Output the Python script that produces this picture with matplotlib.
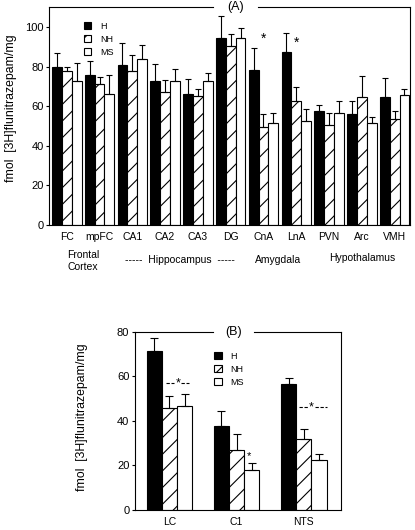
import numpy as np
import matplotlib.pyplot as plt
from matplotlib.patches import Patch

plt.rcParams['font.family'] = ['Liberation Sans', 'DejaVu Sans']
plt.rcParams['hatch.linewidth'] = 0.8

groups = ['H', 'NH', 'MS']

# (A) forebrain regions
regions_a = ['FC', 'mpFC', 'CA1', 'CA2', 'CA3', 'DG', 'CnA', 'LnA', 'PVN', 'Arc', 'VMH']
h_a = [80, 76, 81, 72.5, 66, 94.5, 78.4, 87.4, 57.8, 55.8, 64.6]
h_a_err = [7, 7, 11, 9, 8, 11, 11, 9.5, 2.7, 6.6, 9.5]
nh_a = [78, 71, 78, 67.4, 65, 90.5, 49.3, 62.5, 50.5, 64.6, 53.7]
nh_a_err = [2, 4, 8, 6, 3.5, 6, 7, 7, 6, 10.7, 3.7]
ms_a = [73, 66, 84, 73, 73, 94.5, 51.5, 52.4, 56.4, 51.5, 65.8]
ms_a_err = [9, 10, 7, 6, 4, 5, 5, 6, 6, 3, 2.7]

# (B) brainstem regions
regions_b = ['LC', 'C1', 'NTS']
h_b = [71.3, 37.5, 56.4]
h_b_err = [6, 7, 2.7]
nh_b = [45.6, 27.1, 32.1]
nh_b_err = [5.4, 7, 4.1]
ms_b = [46.5, 18.1, 22.3]
ms_b_err = [5.7, 3, 2.7]

ylabel = 'fmol  [3H]flunitrazepam/mg'

styles = [dict(facecolor='black', edgecolor='black'),
          dict(facecolor='white', edgecolor='black', hatch='//'),
          dict(facecolor='white', edgecolor='black')]


def draw_bars(ax, vals, errs, width, cap):
    x = np.arange(len(vals[0]))
    for i, (v, e, st) in enumerate(zip(vals, errs, styles)):
        pos = x + (i - 1) * width
        ax.bar(pos, v, width, linewidth=0.8, label=groups[i], **st)
        ax.errorbar(pos, v, yerr=[np.zeros(len(v)), e], fmt='none', ecolor='black',
                    elinewidth=0.8, capsize=cap, capthick=0.8)


def frame(ax, gap0, gap1):
    for s in ax.spines.values():
        s.set_linewidth(0.8)
    ax.spines['top'].set_visible(False)
    ax.plot([0, gap0], [1, 1], transform=ax.transAxes, color='black', lw=0.8, clip_on=False)
    ax.plot([gap1, 1], [1, 1], transform=ax.transAxes, color='black', lw=0.8, clip_on=False)
    ax.tick_params(axis='x', length=0, pad=5, labelsize=7.5)
    ax.tick_params(axis='y', direction='out', length=2.5, width=0.8, pad=1.5, labelsize=8)


def add_legend(ax, anchor):
    handles = [Patch(facecolor='black', edgecolor='black', linewidth=0.8),
               Patch(facecolor='white', edgecolor='black', hatch='///', linewidth=0.8),
               Patch(facecolor='white', edgecolor='black', linewidth=0.8)]
    ax.legend(handles, groups, loc='upper left', bbox_to_anchor=anchor, frameon=False,
              fontsize=6.5, handlelength=0.8, handleheight=0.8, handletextpad=1.0,
              labelspacing=0.45, borderpad=0, borderaxespad=0)


fig = plt.figure(figsize=(4.15, 5.3), dpi=100)

# ---- panel A ----
axA = fig.add_axes([0.119, 0.576, 0.869, 0.410])
draw_bars(axA, [h_a, nh_a, ms_a], [h_a_err, nh_a_err, ms_a_err], 0.3, 2)
axA.set_xlim(-0.53, 10.47)
axA.set_ylim(0, 110)
axA.set_yticks([0, 20, 40, 60, 80, 100])
axA.set_xticks(np.arange(len(regions_a)))
axA.set_xticklabels(regions_a)
frame(axA, 0.454, 0.579)
axA.text(0.516, 1.0, '(A)', transform=axA.transAxes, ha='center', va='center', fontsize=9)
add_legend(axA, (0.095, 0.935))
axA.text(6, 94.0, '*', ha='center', va='center', fontsize=10)
axA.text(7, 92.0, '*', ha='center', va='center', fontsize=10)

tr = axA.get_xaxis_transform()
axA.text(0.5, -0.167, 'Frontal\nCortex', transform=tr, ha='center', va='center',
         fontsize=7.5, linespacing=1.3)
axA.text(3.45, -0.163, '-----  Hippocampus  -----', transform=tr, ha='center', va='center', fontsize=7.5)
axA.text(6.45, -0.163, 'Amygdala', transform=tr, ha='center', va='center', fontsize=7.5)
axA.text(9.0, -0.153, 'Hypothalamus', transform=tr, ha='center', va='center', fontsize=7.5)
fig.text(11 / 415, 1 - 108 / 530, ylabel, rotation=90, ha='center', va='center', fontsize=8.8)

# ---- panel B ----
axB = fig.add_axes([0.325, 0.0377, 0.496, 0.3363])
draw_bars(axB, [h_b, nh_b, ms_b], [h_b_err, nh_b_err, ms_b_err], 0.226, 3)
axB.set_xlim(-0.513, 2.548)
axB.set_ylim(0, 80)
axB.set_yticks([0, 20, 40, 60, 80])
axB.set_xticks(np.arange(len(regions_b)))
axB.set_xticklabels(regions_b)
frame(axB, 0.381, 0.579)
axB.text(0.478, 1.0, '(B)', transform=axB.transAxes, ha='center', va='center', fontsize=9)
add_legend(axB, (0.386, 0.889))

dash = dict(color='black', lw=0.8, ls=(0, (3, 1.5)))
axB.plot([-0.052, 0.07], [57.1, 57.1], **dash)
axB.plot([0.18, 0.29], [57.1, 57.1], **dash)
axB.text(0.126, 56.6, '*', ha='center', va='center', fontsize=9)
axB.plot([1.927, 2.07], [46.4, 46.4], **dash)
axB.plot([2.16, 2.344], [46.4, 46.4], **dash)
axB.text(2.116, 45.9, '*', ha='center', va='center', fontsize=9)
axB.text(1.183, 24.2, '*', ha='center', va='center', fontsize=8)
fig.text(82 / 415, 1 - 416.7 / 530, ylabel, rotation=90, ha='center', va='center', fontsize=8.8)

fig.savefig('out.png', dpi=100)
